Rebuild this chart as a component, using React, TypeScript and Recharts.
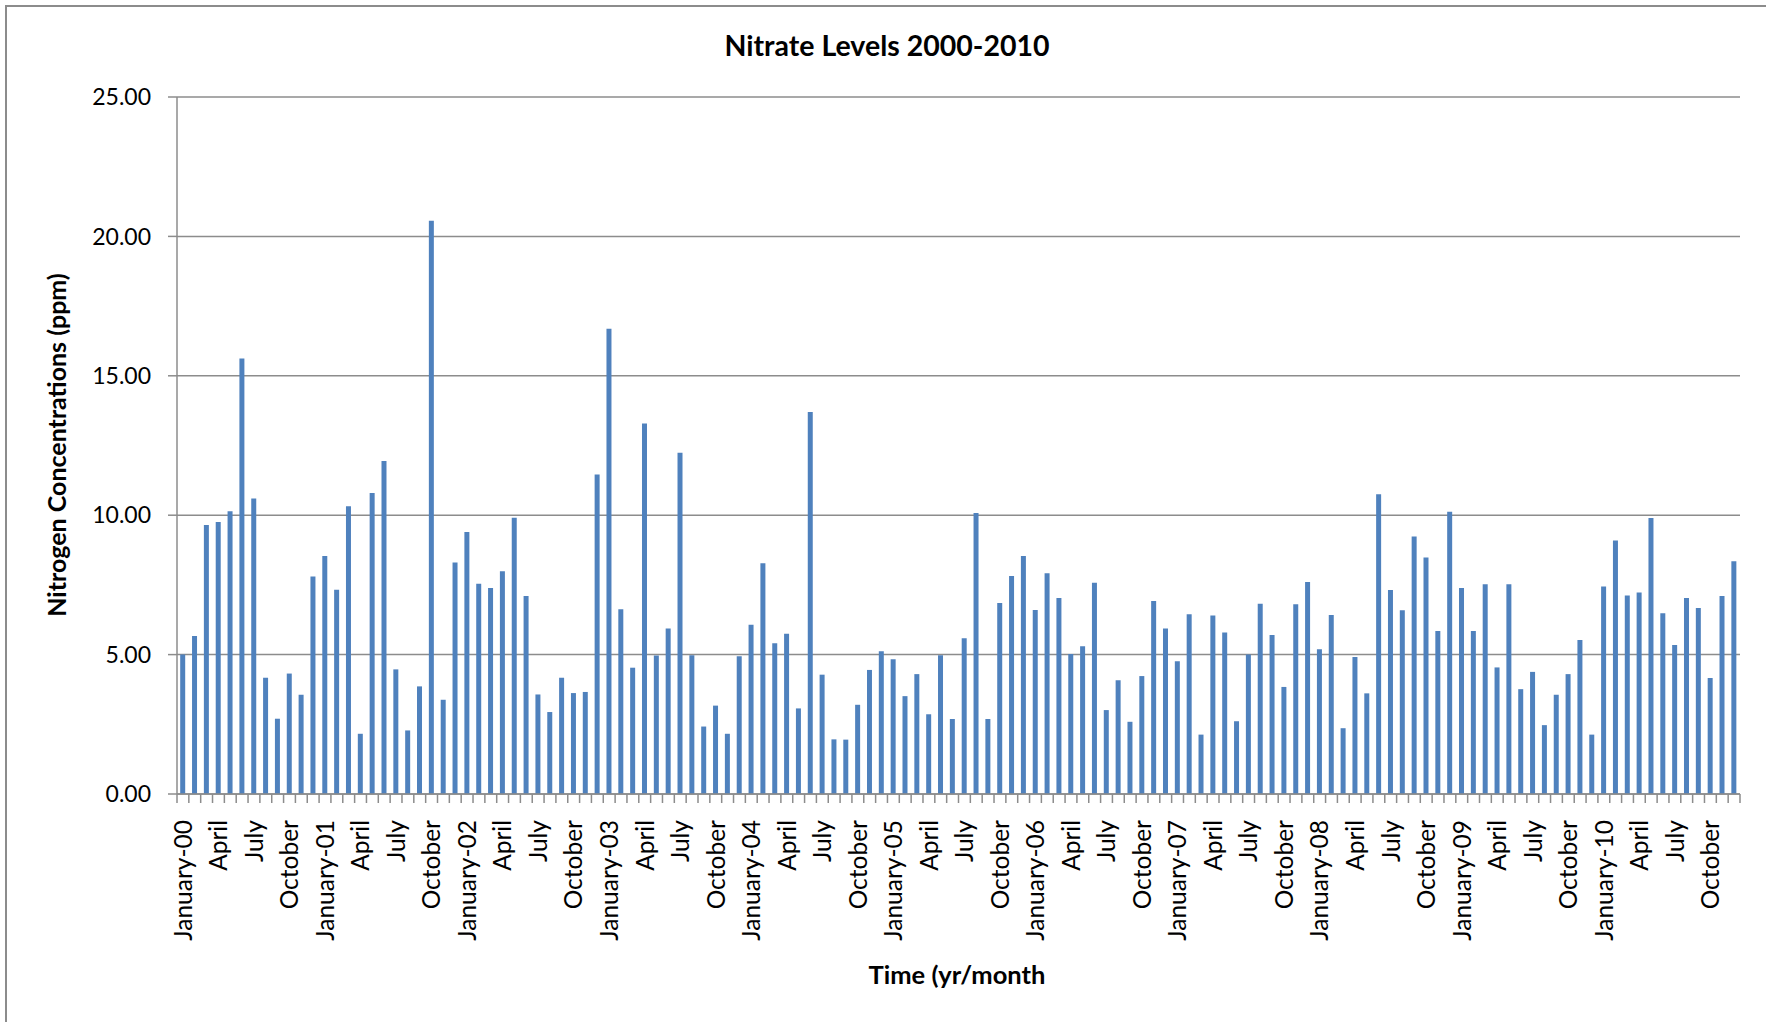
import { BarChart, Bar, XAxis, YAxis, CartesianGrid } from 'recharts';

const MONTHS = [
  'January', 'February', 'March', 'April', 'May', 'June',
  'July', 'August', 'September', 'October', 'November', 'December',
];
const YEARS = ['00', '01', '02', '03', '04', '05', '06', '07', '08', '09', '10'];

const Y2000 = [5.0, 5.67, 9.65, 9.76, 10.14, 15.62, 10.6, 4.17, 2.7, 4.32, 3.56, 7.8];
const Y2001 = [8.54, 7.33, 10.32, 2.16, 10.8, 11.94, 4.47, 2.28, 3.86, 20.56, 3.38, 8.3];
const Y2002 = [9.4, 7.54, 7.39, 7.99, 9.91, 7.1, 3.57, 2.94, 4.17, 3.62, 3.66, 11.46];
const Y2003 = [16.69, 6.63, 4.53, 13.29, 4.97, 5.94, 12.24, 4.98, 2.42, 3.17, 2.16, 4.94];
const Y2004 = [6.07, 8.28, 5.41, 5.75, 3.07, 13.7, 4.28, 1.96, 1.95, 3.2, 4.45, 5.12];
const Y2005 = [4.83, 3.51, 4.3, 2.86, 4.98, 2.69, 5.59, 10.08, 2.69, 6.85, 7.82, 8.54];
const Y2006 = [6.6, 7.92, 7.03, 5.02, 5.3, 7.58, 3.01, 4.08, 2.59, 4.23, 6.92, 5.94];
const Y2007 = [4.76, 6.45, 2.13, 6.4, 5.79, 2.61, 5.0, 6.82, 5.7, 3.84, 6.81, 7.6];
const Y2008 = [5.19, 6.42, 2.36, 4.91, 3.61, 10.75, 7.32, 6.59, 9.24, 8.48, 5.85, 10.12];
const Y2009 = [7.39, 5.85, 7.52, 4.54, 7.52, 3.76, 4.38, 2.47, 3.56, 4.3, 5.52, 2.13];
const Y2010 = [7.44, 9.09, 7.12, 7.23, 9.9, 6.48, 5.34, 7.03, 6.67, 4.16, 7.1, 8.35];

const Y_TICKS = [0, 5, 10, 15, 20, 25];

const VALUES = [Y2000, Y2001, Y2002, Y2003, Y2004, Y2005, Y2006, Y2007, Y2008, Y2009, Y2010];

const data = VALUES.flatMap((vals, yi) =>
  vals.map((v, mi) => ({ key: `${YEARS[yi]}-${mi + 1}`, year: YEARS[yi], month: mi, nitrate: v }))
);

const FONT = 'Lato, "Open Sans", sans-serif';
const GRID = '#8c8c8c';
const PLOT_LEFT = 177;
const PLOT_RIGHT = 1740;
const STEP = (PLOT_RIGHT - PLOT_LEFT) / data.length;

function MonthTick(props: any) {
  const { x, y, payload } = props;
  const idx = payload.index;
  const d = data[idx];
  let label = '';
  if (d && d.month % 3 === 0) {
    label = d.month === 0 ? `January-${d.year}` : MONTHS[d.month];
  }
  return (
    <g>
      <line x1={x - STEP / 2} x2={x - STEP / 2} y1={y} y2={y + 9} stroke={GRID} strokeWidth={1.5} />
      {idx === data.length - 1 && (
        <line x1={x + STEP / 2} x2={x + STEP / 2} y1={y} y2={y + 9} stroke={GRID} strokeWidth={1.5} />
      )}
      {label && (
        <text
          x={x}
          y={y + 26}
          transform={`rotate(-90, ${x}, ${y + 26})`}
          textAnchor="end"
          dy="0.36em"
          fontSize={24.5}
          fontFamily={FONT}
          fill="#000"
        >
          {label}
        </text>
      )}
    </g>
  );
}

export default function App() {
  return (
    <div
      style={{
        position: 'absolute',
        left: 0,
        top: 0,
        width: 1766,
        height: 1022,
        background: '#fff',
        fontFamily: FONT,
        overflow: 'hidden',
      }}
    >
      <div
        style={{
          position: 'absolute',
          left: 5,
          top: 5,
          width: 1761,
          height: 1017,
          borderTop: `2px solid ${GRID}`,
          borderLeft: `2px solid ${GRID}`,
        }}
      />
      <div
        style={{
          position: 'absolute',
          left: 887,
          top: 45,
          transform: 'translate(-50%, -50%)',
          fontWeight: 700,
          fontSize: 28.5,
          whiteSpace: 'nowrap',
        }}
      >
        Nitrate Levels 2000-2010
      </div>
      <div
        style={{
          position: 'absolute',
          left: 56,
          top: 445,
          transform: 'translate(-50%, -50%) rotate(-90deg)',
          fontWeight: 700,
          fontSize: 25,
          whiteSpace: 'nowrap',
        }}
      >
        Nitrogen Concentrations (ppm)
      </div>
      <div
        style={{
          position: 'absolute',
          left: 957,
          top: 974,
          transform: 'translate(-50%, -50%)',
          fontWeight: 700,
          fontSize: 25.5,
          whiteSpace: 'nowrap',
        }}
      >
        Time (yr/month
      </div>
      <div style={{ position: 'absolute', left: 0, top: 0 }}>
        <BarChart
          width={1766}
          height={1022}
          data={data}
          margin={{ top: 97, right: 1766 - PLOT_RIGHT, bottom: 0, left: 0 }}
          barCategoryGap="27%"
        >
          <CartesianGrid vertical={false} stroke={GRID} strokeWidth={1.5} />
          <XAxis
            dataKey="key"
            interval={0}
            height={228}
            tickSize={0}
            tickMargin={0}
            tickLine={false}
            axisLine={{ stroke: GRID, strokeWidth: 1.5 }}
            tick={<MonthTick />}
          />
          <YAxis
            width={PLOT_LEFT}
            domain={[0, 25]}
            ticks={Y_TICKS}
            interval={0}
            tickSize={9}
            tickMargin={17}
            axisLine={{ stroke: GRID, strokeWidth: 1.5 }}
            tickLine={{ stroke: GRID, strokeWidth: 1.5 }}
            tickFormatter={(v: number) => v.toFixed(2)}
            tick={{ fill: '#000', fontSize: 23, fontFamily: FONT }}
          />
          <Bar dataKey="nitrate" fill="#4F81BD" isAnimationActive={false} />
        </BarChart>
      </div>
    </div>
  );
}
